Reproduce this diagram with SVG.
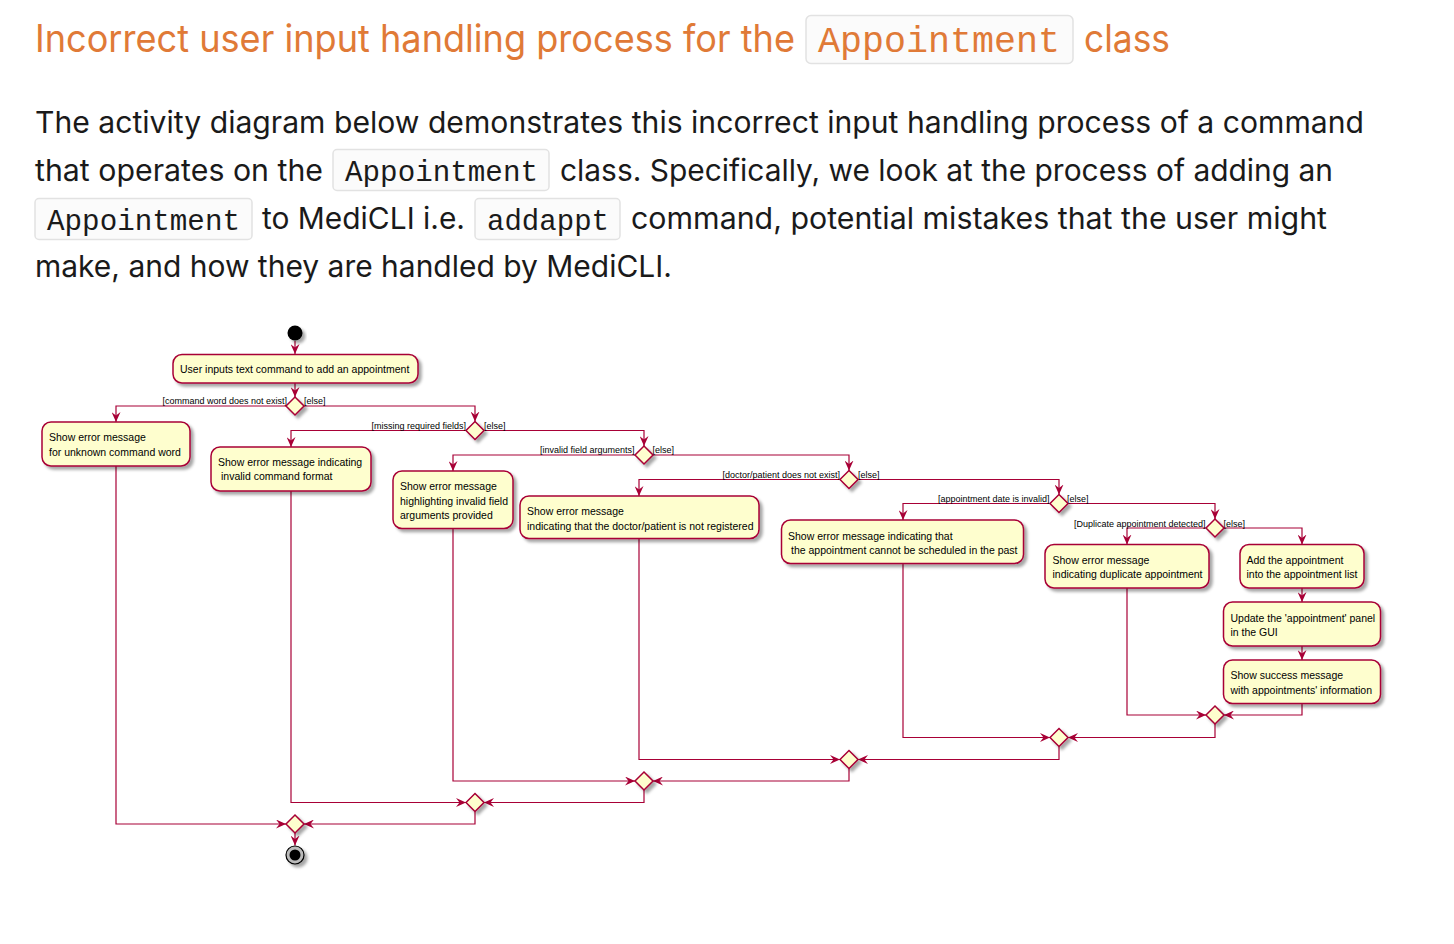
<svg xmlns="http://www.w3.org/2000/svg" width="1454" height="944" viewBox="0 0 1454 944">
<style>
.title{font-family:Inter,"Noto Sans","Liberation Sans",sans-serif;font-size:38px;fill:#E07A37}
.tcode{font-family:"Liberation Mono","DejaVu Sans Mono",monospace;font-size:37px;fill:#E07A37}
.para{font-family:Inter,"Noto Sans","Liberation Sans",sans-serif;font-size:30px;fill:#1a1a1a}
.code{font-family:"Liberation Mono","DejaVu Sans Mono",monospace;font-size:29px;fill:#1a1a1a}
.cbox{fill:#fbfbfb;stroke:#e2e2e2;stroke-width:1.5}
.act{fill:#FEFECE;stroke:#A80036;stroke-width:1.5}
.dia{fill:#FEFECE;stroke:#A80036;stroke-width:1.5}
.t{font-family:"Liberation Sans",Arial,sans-serif;font-size:10.5px;fill:#000}
.lbl{font-family:"Liberation Sans",Arial,sans-serif;font-size:9px;fill:#000}
.ln{fill:none;stroke:#A80036;stroke-width:1.2}
</style>
<defs>
<filter id="sh" x="-20%" y="-20%" width="150%" height="160%">
<feDropShadow dx="3" dy="3" stdDeviation="1.6" flood-color="#000" flood-opacity="0.35"/>
</filter>
<marker id="ar" markerUnits="userSpaceOnUse" markerWidth="10" markerHeight="9" refX="10" refY="4.5" orient="auto">
<path d="M0,0 L10,4.5 L0,9 L3.5,4.5 Z" fill="#A80036"/>
</marker>
</defs>
<rect width="1454" height="944" fill="#fff"/>

<g id="header">
<text class="title" x="35" y="52" textLength="760" lengthAdjust="spacingAndGlyphs">Incorrect user input handling process for the</text>
<rect class="cbox" x="806" y="15.5" width="267" height="48" rx="5"/>
<text class="tcode" x="818" y="52" textLength="242" lengthAdjust="spacingAndGlyphs">Appointment</text>
<text class="title" x="1084" y="52" textLength="86" lengthAdjust="spacingAndGlyphs">class</text>
</g>

<g id="paragraph">
<text class="para" x="35" y="133" textLength="1329" lengthAdjust="spacingAndGlyphs">The activity diagram below demonstrates this incorrect input handling process of a command</text>
<text class="para" x="35" y="181" textLength="288" lengthAdjust="spacingAndGlyphs">that operates on the</text>
<rect class="cbox" x="333" y="149.5" width="216" height="41" rx="4"/>
<text class="code" x="345" y="181" textLength="193" lengthAdjust="spacingAndGlyphs">Appointment</text>
<text class="para" x="560" y="181" textLength="773" lengthAdjust="spacingAndGlyphs">class. Specifically, we look at the process of adding an</text>
<rect class="cbox" x="35" y="198.5" width="217" height="41" rx="4"/>
<text class="code" x="47" y="230" textLength="193" lengthAdjust="spacingAndGlyphs">Appointment</text>
<text class="para" x="262" y="229" textLength="203" lengthAdjust="spacingAndGlyphs">to MediCLI i.e.</text>
<rect class="cbox" x="475" y="198.5" width="145" height="41" rx="4"/>
<text class="code" x="487" y="230" textLength="122" lengthAdjust="spacingAndGlyphs">addappt</text>
<text class="para" x="631" y="229" textLength="696" lengthAdjust="spacingAndGlyphs">command, potential mistakes that the user might</text>
<text class="para" x="35" y="277" textLength="637" lengthAdjust="spacingAndGlyphs">make, and how they are handled by MediCLI.</text>
</g>

<g id="connectors">
<path class="ln" d="M295,341 V354" marker-end="url(#ar)"/>
<path class="ln" d="M295,383 V397" marker-end="url(#ar)"/>
<path class="ln" d="M286,406 H116 V422" marker-end="url(#ar)"/>
<path class="ln" d="M304,406 H475 V421.5" marker-end="url(#ar)"/>
<path class="ln" d="M466,430.5 H291 V447" marker-end="url(#ar)"/>
<path class="ln" d="M484,430.5 H644 V446" marker-end="url(#ar)"/>
<path class="ln" d="M635,455 H453 V471" marker-end="url(#ar)"/>
<path class="ln" d="M653,455 H849 V470.5" marker-end="url(#ar)"/>
<path class="ln" d="M840,479.5 H639 V496" marker-end="url(#ar)"/>
<path class="ln" d="M858,479.5 H1059 V494.5" marker-end="url(#ar)"/>
<path class="ln" d="M1050,503.5 H903 V520" marker-end="url(#ar)"/>
<path class="ln" d="M1068,503.5 H1215 V519" marker-end="url(#ar)"/>
<path class="ln" d="M1206,528 H1127 V544.5" marker-end="url(#ar)"/>
<path class="ln" d="M1224,528 H1302 V544.5" marker-end="url(#ar)"/>
<path class="ln" d="M1302,588 V602" marker-end="url(#ar)"/>
<path class="ln" d="M1302,646 V660" marker-end="url(#ar)"/>
<path class="ln" d="M1127,588 V715 H1206" marker-end="url(#ar)"/>
<path class="ln" d="M1302,703.5 V715 H1224" marker-end="url(#ar)"/>
<path class="ln" d="M903,563.5 V737.5 H1050" marker-end="url(#ar)"/>
<path class="ln" d="M1215,724 V737.5 H1068" marker-end="url(#ar)"/>
<path class="ln" d="M639,538.5 V759.5 H840" marker-end="url(#ar)"/>
<path class="ln" d="M1059,746.5 V759.5 H858" marker-end="url(#ar)"/>
<path class="ln" d="M453,528.5 V781 H635" marker-end="url(#ar)"/>
<path class="ln" d="M849,768.5 V781 H653" marker-end="url(#ar)"/>
<path class="ln" d="M291,491 V802.5 H466" marker-end="url(#ar)"/>
<path class="ln" d="M644,790 V802.5 H484" marker-end="url(#ar)"/>
<path class="ln" d="M116,466 V824 H286" marker-end="url(#ar)"/>
<path class="ln" d="M475,811.5 V824 H304" marker-end="url(#ar)"/>
<path class="ln" d="M295,833 V845.5" marker-end="url(#ar)"/>
</g>

<g id="labels">
<text class="lbl" x="287" y="404" text-anchor="end">[command word does not exist]</text>
<text class="lbl" x="304" y="404">[else]</text>
<text class="lbl" x="466" y="428.5" text-anchor="end">[missing required fields]</text>
<text class="lbl" x="484" y="428.5">[else]</text>
<text class="lbl" x="634.5" y="453" text-anchor="end">[invalid field arguments]</text>
<text class="lbl" x="652.5" y="453">[else]</text>
<text class="lbl" x="840" y="477.5" text-anchor="end">[doctor/patient does not exist]</text>
<text class="lbl" x="858" y="477.5">[else]</text>
<text class="lbl" x="1049.5" y="501.5" text-anchor="end">[appointment date is invalid]</text>
<text class="lbl" x="1067" y="501.5">[else]</text>
<text class="lbl" x="1205.5" y="526.5" text-anchor="end">[Duplicate appointment detected]</text>
<text class="lbl" x="1223.5" y="526.5">[else]</text>
</g>

<g id="start"><circle cx="295" cy="333" r="7.5" fill="#000" filter="url(#sh)"/></g>

<g id="n-input"><rect class="act" x="173" y="354.5" width="245" height="28.5" rx="9" filter="url(#sh)"/>
<text class="t" x="180" y="373">User inputs text command to add an appointment</text></g>

<g id="d1"><polygon class="dia" points="295,397 304,406 295,415 286,406" filter="url(#sh)"/></g>
<g id="d2"><polygon class="dia" points="475,421.5 484,430.5 475,439.5 466,430.5" filter="url(#sh)"/></g>
<g id="d3"><polygon class="dia" points="644,446 653,455 644,464 635,455" filter="url(#sh)"/></g>
<g id="d4"><polygon class="dia" points="849,470.5 858,479.5 849,488.5 840,479.5" filter="url(#sh)"/></g>
<g id="d5"><polygon class="dia" points="1059,494.5 1068,503.5 1059,512.5 1050,503.5" filter="url(#sh)"/></g>
<g id="d6"><polygon class="dia" points="1215,519 1224,528 1215,537 1206,528" filter="url(#sh)"/></g>

<g id="n-unknown"><rect class="act" x="42" y="422" width="148" height="44" rx="9" filter="url(#sh)"/>
<text class="t" x="49" y="441">Show error message</text>
<text class="t" x="49" y="455.5">for unknown command word</text></g>

<g id="n-format"><rect class="act" x="211" y="447" width="160" height="44" rx="9" filter="url(#sh)"/>
<text class="t" x="218" y="465.5">Show error message indicating</text>
<text class="t" x="221" y="479.5">invalid command format</text></g>

<g id="n-invalid"><rect class="act" x="393" y="471" width="120" height="57.5" rx="9" filter="url(#sh)"/>
<text class="t" x="400" y="490">Show error message</text>
<text class="t" x="400" y="504.5">highlighting invalid field</text>
<text class="t" x="400" y="519">arguments provided</text></g>

<g id="n-notreg"><rect class="act" x="520" y="496" width="239" height="42.5" rx="9" filter="url(#sh)"/>
<text class="t" x="527" y="515">Show error message</text>
<text class="t" x="527" y="529.5">indicating that the doctor/patient is not registered</text></g>

<g id="n-past"><rect class="act" x="781.5" y="520" width="242" height="43.5" rx="9" filter="url(#sh)"/>
<text class="t" x="788" y="539.5">Show error message indicating that</text>
<text class="t" x="791" y="554">the appointment cannot be scheduled in the past</text></g>

<g id="n-dup"><rect class="act" x="1045" y="544.5" width="164" height="43.5" rx="9" filter="url(#sh)"/>
<text class="t" x="1052.5" y="564">Show error message</text>
<text class="t" x="1052.5" y="578">indicating duplicate appointment</text></g>

<g id="n-add"><rect class="act" x="1240" y="544.5" width="124" height="43.5" rx="9" filter="url(#sh)"/>
<text class="t" x="1246.5" y="564">Add the appointment</text>
<text class="t" x="1246.5" y="578">into the appointment list</text></g>

<g id="n-update"><rect class="act" x="1223.5" y="602" width="157" height="44" rx="9" filter="url(#sh)"/>
<text class="t" x="1230.5" y="621.5">Update the 'appointment' panel</text>
<text class="t" x="1230.5" y="636">in the GUI</text></g>

<g id="n-success"><rect class="act" x="1223.5" y="660" width="157" height="43.5" rx="9" filter="url(#sh)"/>
<text class="t" x="1230.5" y="679">Show success message</text>
<text class="t" x="1230.5" y="693.5">with appointments' information</text></g>

<g id="m6"><polygon class="dia" points="1215,706 1224,715 1215,724 1206,715" filter="url(#sh)"/></g>
<g id="m5"><polygon class="dia" points="1059,728.5 1068,737.5 1059,746.5 1050,737.5" filter="url(#sh)"/></g>
<g id="m4"><polygon class="dia" points="849,750.5 858,759.5 849,768.5 840,759.5" filter="url(#sh)"/></g>
<g id="m3"><polygon class="dia" points="644,772 653,781 644,790 635,781" filter="url(#sh)"/></g>
<g id="m2"><polygon class="dia" points="475,793.5 484,802.5 475,811.5 466,802.5" filter="url(#sh)"/></g>
<g id="m1"><polygon class="dia" points="295,815 304,824 295,833 286,824" filter="url(#sh)"/></g>

<g id="end"><circle cx="295" cy="855" r="9" fill="#bbb" stroke="#000" stroke-width="1.2" filter="url(#sh)"/>
<circle cx="295" cy="855" r="5.5" fill="#000"/></g>
</svg>
